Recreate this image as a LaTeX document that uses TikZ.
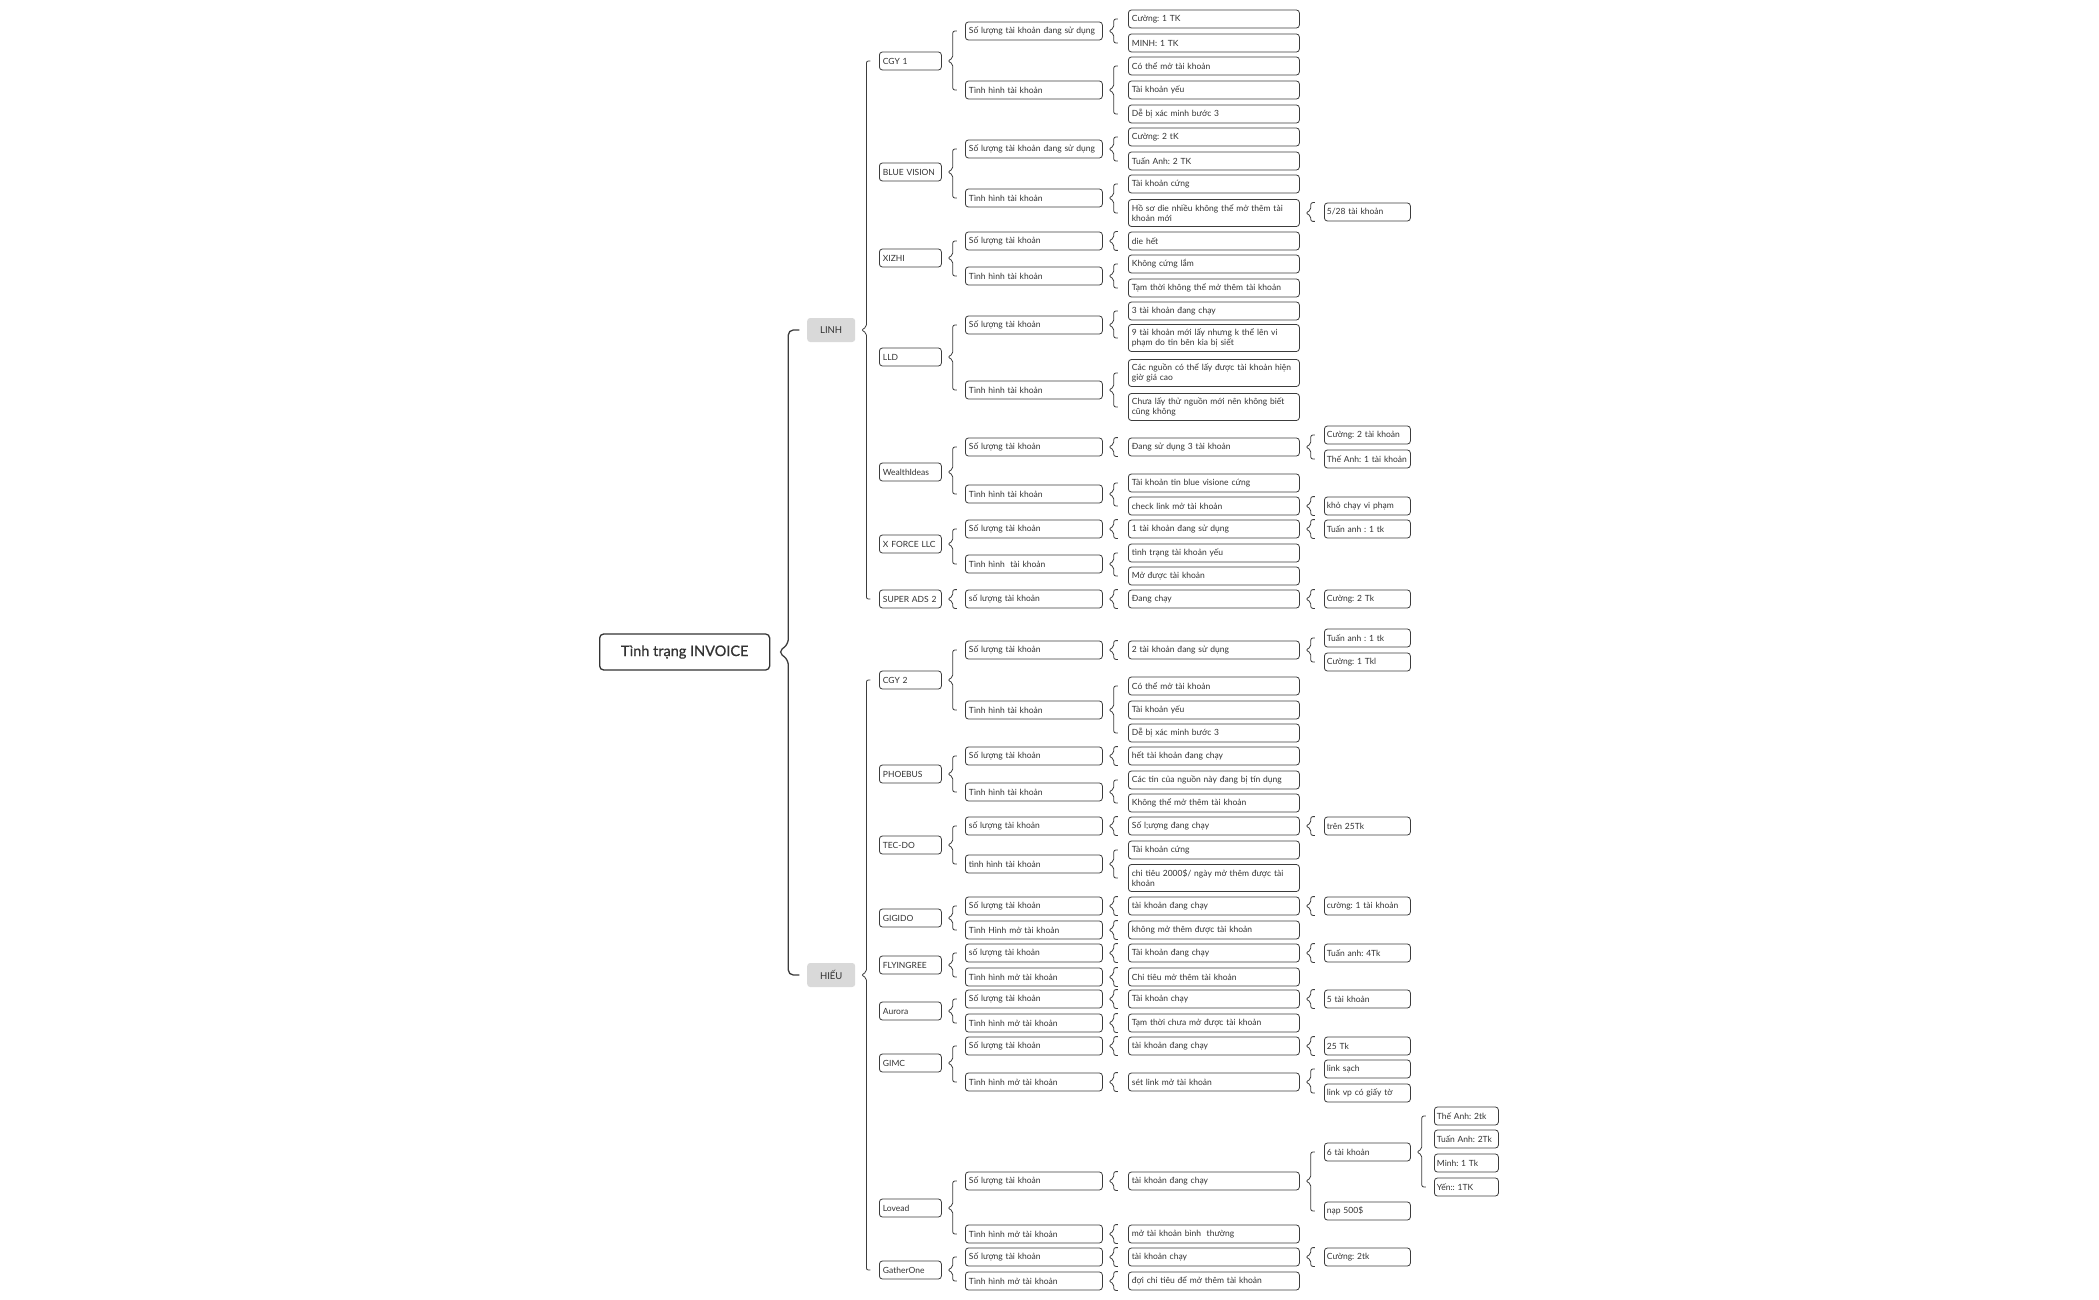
\documentclass[tikz,border=0pt]{standalone}
\usepackage{fontspec}
\setmainfont{Lato}
\newfontfamily\rootfont[FakeBold=0.8]{Lato}
\usepackage{tikz}
\usetikzlibrary{calc,positioning}
\definecolor{ink}{HTML}{333333}
\definecolor{edge}{HTML}{3C3C3C}
\definecolor{grpfill}{HTML}{D9D9D9}
\tikzstyle{bx}=[draw=edge, line width=0.8pt, rounded corners=3pt, anchor=west, align=left, inner xsep=3.5pt, inner ysep=2pt, minimum height=18pt, text=ink, font=\fontsize{8.5}{10}\selectfont]
\tikzstyle{co}=[bx, text width=55pt]
\tikzstyle{lt}=[bx, text width=130pt]
\tikzstyle{lf}=[bx, text width=164pt]
\tikzstyle{lv}=[bx, inner xsep=2.5pt, text width=81pt]
\tikzstyle{lx}=[bx, inner xsep=2.5pt, text width=59pt]
\tikzstyle{tw}=[minimum height=27pt]
\tikzstyle{grp}=[fill=grpfill, rounded corners=3pt, anchor=west, minimum width=48pt, minimum height=24pt, inner sep=0pt, text=ink, font=\fontsize{9.5}{11}\selectfont]
\tikzstyle{rootbox}=[draw=ink, line width=1.3pt, rounded corners=4pt, anchor=west, minimum width=170pt, minimum height=36pt, inner sep=0pt, text=ink, font=\rootfont\fontsize{14.5}{17}\selectfont]
\tikzstyle{brcline}=[draw=edge, line width=0.8pt, rounded corners=2pt]
\newcommand{\brcat}[3]{\draw[brcline] let \p1=(#1.east), \p2=(#2), \p3=(#3) in
  (\x1+15pt,\y2) -- (\x1+11pt,\y2) -- (\x1+11pt,\y1+3pt) -- (\x1+6pt,\y1)
  -- (\x1+11pt,\y1-3pt) -- (\x1+11pt,\y3) -- (\x1+15pt,\y3);}
\newcommand{\brc}[3]{\brcat{#1}{#2.west}{#3.west}}
\newcommand{\brcone}[2]{\brcat{#1}{#2.north west}{#2.south west}}
\frenchspacing

\begin{document}
\begin{tikzpicture}
[x=1pt, y=-1pt]
 \fill[white] (0,0) rectangle (2099,1300);
 \useasboundingbox (0,0) rectangle (2099,1300);
 \node[rootbox] (root) at (599,652) {Tình trạng INVOICE};
 \node[grp] (linh) at (807,330) {LINH};
 \node[grp] (hieu) at (807,975) {HIẾU};

 \node[co] (c1) at (879,61) {CGY 1};
 \node[lt] (c1s) at (965,31) {Số lượng tài khoản đang sử dụng};
 \node[lf] (c1s1) at (1128,19) {Cường: 1 TK};
 \node[lf] (c1s2) at (1128,43) {MINH: 1 TK};
 \node[lt] (c1t) at (965,90) {Tình hình tài khoản};
 \node[lf] (c1t1) at (1128,66) {Có thể mở tài khoản};
 \node[lf] (c1t2) at (1128,90) {Tài khoản yếu};
 \node[lf] (c1t3) at (1128,114) {Dễ bị xác minh bước 3};

 \node[co] (c2) at (879,172) {BLUE VISION};
 \node[lt] (c2s) at (965,149) {Số lượng tài khoản đang sử dụng};
 \node[lf] (c2s1) at (1128,137) {Cường: 2 tK};
 \node[lf] (c2s2) at (1128,161) {Tuấn Anh: 2 TK};
 \node[lt] (c2t) at (965,198) {Tình hình tài khoản};
 \node[lf] (c2t1) at (1128,184) {Tài khoản cứng};
 \node[lf,tw] (c2t2) at (1128,213) {Hồ sơ die nhiều không thể mở thêm tài\\khoản mới};
 \node[lv] (c2t2a) at (1324,212) {5/28 tài khoản};

 \node[co] (c3) at (879,258) {XIZHI};
 \node[lt] (c3s) at (965,241) {Số lượng tài khoản};
 \node[lf] (c3s1) at (1128,241) {die hết};
 \node[lt] (c3t) at (965,276) {Tình hình tài khoản};
 \node[lf] (c3t1) at (1128,264) {Không cứng lắm};
 \node[lf] (c3t2) at (1128,288) {Tạm thời không thể mở thêm tài khoản};

 \node[co] (c4) at (879,357) {LLD};
 \node[lt] (c4s) at (965,325) {Số lượng tài khoản};
 \node[lf] (c4s1) at (1128,311) {3 tài khoản đang chạy};
 \node[lf,tw] (c4s2) at (1128,338) {9 tài khoản mới lấy nhưng k thể lên vi\\phạm do tin bên kia bị siết};
 \node[lt] (c4t) at (965,390) {Tình hình tài khoản};
 \node[lf,tw] (c4t1) at (1128,373) {Các nguồn có thể lấy được tài khoản hiện\\giờ giá cao};
 \node[lf,tw] (c4t2) at (1128,407) {Chưa lấy thử nguồn mới nên không biết\\cũng không};

 \node[co] (c5) at (879,472) {WealthIdeas};
 \node[lt] (c5s) at (965,447) {Số lượng tài khoản};
 \node[lf] (c5s1) at (1128,447) {Đang sử dụng 3 tài khoản};
 \node[lv] (c5s1a) at (1324,435) {Cường: 2 tài khoản};
 \node[lv] (c5s1b) at (1324,459) {Thế Anh: 1 tài khoản};
 \node[lt] (c5t) at (965,494) {Tình hình tài khoản};
 \node[lf] (c5t1) at (1128,483) {Tài khoản tin blue visione cứng};
 \node[lf] (c5t2) at (1128,506) {check link mở tài khoản};
 \node[lv] (c5t2a) at (1324,506) {khỏ chạy vi phạm};

 \node[co] (c6) at (879,544) {X FORCE LLC};
 \node[lt] (c6s) at (965,529) {Số lượng tài khoản};
 \node[lf] (c6s1) at (1128,529) {1 tài khoản đang sử dụng};
 \node[lv] (c6s1a) at (1324,529) {Tuấn anh : 1 tk};
 \node[lt] (c6t) at (965,564) {Tình hình \ tài khoản};
 \node[lf] (c6t1) at (1128,553) {tình trạng tài khoản yếu};
 \node[lf] (c6t2) at (1128,576) {Mở được tài khoản};

 \node[co] (c7) at (879,599) {SUPER ADS 2};
 \node[lt] (c7s) at (965,599) {số lượng tài khoản};
 \node[lf] (c7s1) at (1128,599) {Đang chạy};
 \node[lv] (c7s1a) at (1324,599) {Cường: 2 Tk};

 \node[co] (h1) at (879,680) {CGY 2};
 \node[lt] (h1s) at (965,650) {Số lượng tài khoản};
 \node[lf] (h1s1) at (1128,650) {2 tài khoản đang sử dụng};
 \node[lv] (h1s1a) at (1324,638) {Tuấn anh : 1 tk};
 \node[lv] (h1s1b) at (1324,662) {Cường: 1 Tkl};
 \node[lt] (h1t) at (965,710) {Tình hình tài khoản};
 \node[lf] (h1t1) at (1128,686) {Có thể mở tài khoản};
 \node[lf] (h1t2) at (1128,710) {Tài khoản yếu};
 \node[lf] (h1t3) at (1128,733) {Dễ bị xác minh bước 3};

 \node[co] (h2) at (879,774) {PHOEBUS};
 \node[lt] (h2s) at (965,756) {Số lượng tài khoản};
 \node[lf] (h2s1) at (1128,756) {hết tài khoản đang chạy};
 \node[lt] (h2t) at (965,792) {Tình hình tài khoản};
 \node[lf] (h2t1) at (1128,780) {Các tin của nguồn này đang bị tín dụng};
 \node[lf] (h2t2) at (1128,803) {Không thể mở thêm tài khoản};

 \node[co] (h3) at (879,845) {TEC-DO};
 \node[lt] (h3s) at (965,826) {số lượng tài khoản};
 \node[lf] (h3s1) at (1128,826) {Số l;ượng đang chạy};
 \node[lv] (h3s1a) at (1324,826) {trên 25Tk};
 \node[lt] (h3t) at (965,864) {tình hình tài khoản};
 \node[lf] (h3t1) at (1128,850) {Tài khoản cứng};
 \node[lf,tw] (h3t2) at (1128,878) {chi tiêu 2000\$/ ngày mở thêm được tài\\khoản};

 \node[co] (h4) at (879,918) {GIGIDO};
 \node[lt] (h4s) at (965,906) {Số lượng tài khoản};
 \node[lf] (h4s1) at (1128,906) {tài khoản đang chạy};
 \node[lv] (h4s1a) at (1324,906) {cường: 1 tài khoản};
 \node[lt] (h4t) at (965,930) {Tình Hình mở tài khoản};
 \node[lf] (h4t1) at (1128,930) {không mở thêm được tài khoản};

 \node[co] (h5) at (879,965) {FLYINGREE};
 \node[lt] (h5s) at (965,953) {số lượng tài khoản};
 \node[lf] (h5s1) at (1128,953) {Tài khoản đang chạy};
 \node[lv] (h5s1a) at (1324,953) {Tuấn anh: 4Tk};
 \node[lt] (h5t) at (965,977) {Tình hình mở tài khoản};
 \node[lf] (h5t1) at (1128,977) {Chi tiêu mở thêm tài khoản};

 \node[co] (h6) at (879,1011) {Aurora};
 \node[lt] (h6s) at (965,999) {Số lượng tài khoản};
 \node[lf] (h6s1) at (1128,999) {Tài khoản chạy};
 \node[lv] (h6s1a) at (1324,999) {5 tài khoản};
 \node[lt] (h6t) at (965,1023) {Tình hình mở tài khoản};
 \node[lf] (h6t1) at (1128,1023) {Tạm thời chưa mở được tài khoản};

 \node[co] (h7) at (879,1063) {GIMC};
 \node[lt] (h7s) at (965,1046) {Số lượng tài khoản};
 \node[lf] (h7s1) at (1128,1046) {tài khoản đang chạy};
 \node[lv] (h7s1a) at (1324,1046) {25 Tk};
 \node[lt] (h7t) at (965,1082) {Tình hình mở tài khoản};
 \node[lf] (h7t1) at (1128,1082) {sét link mở tài khoản};
 \node[lv] (h7t1a) at (1324,1069) {link sạch};
 \node[lv] (h7t1b) at (1324,1093) {link vp có giấy tờ};

 \node[co] (h8) at (879,1208) {Lovead};
 \node[lt] (h8s) at (965,1181) {Số lượng tài khoản};
 \node[lf] (h8s1) at (1128,1181) {tài khoản đang chạy};
 \node[lv] (h8s1a) at (1324,1152) {6 tài khoản};
 \node[lx] (h8s1a1) at (1434,1116) {Thế Anh: 2tk};
 \node[lx] (h8s1a2) at (1434,1139) {Tuấn Anh: 2Tk};
 \node[lx] (h8s1a3) at (1434,1163) {Minh: 1 Tk};
 \node[lx] (h8s1a4) at (1434,1187) {Yến:: 1TK};
 \node[lv] (h8s1b) at (1324,1211) {nạp 500\$};
 \node[lt] (h8t) at (965,1234) {Tình hình mở tài khoản};
 \node[lf] (h8t1) at (1128,1234) {mở tài khoản bình \ thường};

 \node[co] (h9) at (879,1270) {GatherOne};
 \node[lt] (h9s) at (965,1257) {Số lượng tài khoản};
 \node[lf] (h9s1) at (1128,1257) {tài khoản chạy};
 \node[lv] (h9s1a) at (1324,1257) {Cường: 2tk};
 \node[lt] (h9t) at (965,1281) {Tình hình mở tài khoản};
 \node[lf] (h9t1) at (1128,1281) {đợi chi tiêu để mở thêm tài khoản};

 \draw[brcline, line width=1.3pt, rounded corners=5pt] let \p1=(root.east), \p2=(linh.west), \p3=(hieu.west) in
   (\x1+29pt,\y2) -- (\x1+18pt,\y2) -- (\x1+18pt,\y1+8pt) -- (\x1+8pt,\y1)
   -- (\x1+18pt,\y1-8pt) -- (\x1+18pt,\y3) -- (\x1+29pt,\y3);
 \brc{linh}{c1}{c7}
 \brc{hieu}{h1}{h9}

 \brc{c1}{c1s}{c1t} \brc{c1s}{c1s1}{c1s2} \brc{c1t}{c1t1}{c1t3}
 \brc{c2}{c2s}{c2t} \brc{c2s}{c2s1}{c2s2} \brc{c2t}{c2t1}{c2t2} \brcone{c2t2}{c2t2a}
 \brc{c3}{c3s}{c3t} \brcone{c3s}{c3s1} \brc{c3t}{c3t1}{c3t2}
 \brc{c4}{c4s}{c4t} \brc{c4s}{c4s1}{c4s2} \brc{c4t}{c4t1}{c4t2}
 \brc{c5}{c5s}{c5t} \brcone{c5s}{c5s1} \brc{c5s1}{c5s1a}{c5s1b} \brc{c5t}{c5t1}{c5t2} \brcone{c5t2}{c5t2a}
 \brc{c6}{c6s}{c6t} \brcone{c6s}{c6s1} \brcone{c6s1}{c6s1a} \brc{c6t}{c6t1}{c6t2}
 \brcone{c7}{c7s} \brcone{c7s}{c7s1} \brcone{c7s1}{c7s1a}

 \brc{h1}{h1s}{h1t} \brcone{h1s}{h1s1} \brc{h1s1}{h1s1a}{h1s1b} \brc{h1t}{h1t1}{h1t3}
 \brc{h2}{h2s}{h2t} \brcone{h2s}{h2s1} \brc{h2t}{h2t1}{h2t2}
 \brc{h3}{h3s}{h3t} \brcone{h3s}{h3s1} \brcone{h3s1}{h3s1a} \brc{h3t}{h3t1}{h3t2}
 \brc{h4}{h4s}{h4t} \brcone{h4s}{h4s1} \brcone{h4s1}{h4s1a} \brcone{h4t}{h4t1}
 \brc{h5}{h5s}{h5t} \brcone{h5s}{h5s1} \brcone{h5s1}{h5s1a} \brcone{h5t}{h5t1}
 \brc{h6}{h6s}{h6t} \brcone{h6s}{h6s1} \brcone{h6s1}{h6s1a} \brcone{h6t}{h6t1}
 \brc{h7}{h7s}{h7t} \brcone{h7s}{h7s1} \brcone{h7s1}{h7s1a} \brcone{h7t}{h7t1} \brc{h7t1}{h7t1a}{h7t1b}
 \brc{h8}{h8s}{h8t} \brcone{h8s}{h8s1} \brc{h8s1}{h8s1a}{h8s1b} \brc{h8s1a}{h8s1a1}{h8s1a4} \brcone{h8t}{h8t1}
 \brc{h9}{h9s}{h9t} \brcone{h9s}{h9s1} \brcone{h9s1}{h9s1a} \brcone{h9t}{h9t1}
\end{tikzpicture}
\end{document}
